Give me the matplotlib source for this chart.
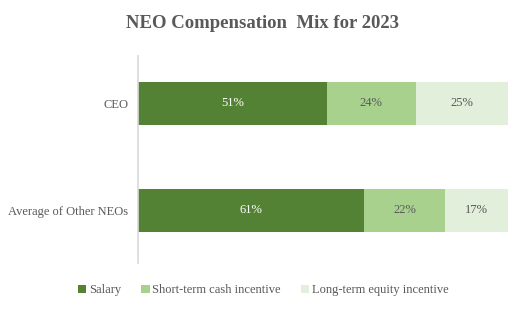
import numpy as np
import matplotlib.pyplot as plt

categories = ["Average of Other NEOs", "CEO"]
salary = [61, 51]
short_term = [22, 24]
long_term = [17, 25]
series_names = ["Salary", "Short-term cash incentive", "Long-term equity incentive"]
colors = ["#548235", "#A9D18E", "#E2EFDA"]
text_colors = ["white", "#595959", "#595959"]

plt.rcParams['font.family'] = ['Liberation Serif', 'DejaVu Serif']

fig = plt.figure(figsize=(5.26, 3.09), dpi=100)
ax = fig.add_axes([0.262, 0.149, 0.704, 0.67])

y = np.arange(len(categories))
left = np.zeros(len(categories))
for vals, name, c, tc in zip([salary, short_term, long_term], series_names, colors, text_colors):
    vals = np.array(vals)
    ax.barh(y, vals / 100, left=left, height=0.4, color=c, label=name)
    for yi, l, v in zip(y, left, vals):
        ax.text(l + v / 200, yi, f"{v}%", ha='center', va='center', fontsize=9, color=tc)
    left = left + vals / 100

ax.set_xlim(0, 1)
ax.set_ylim(-0.49, 1.44)
ax.set_yticks(y)
ax.set_yticklabels(categories, fontsize=9, color="#595959")
ax.tick_params(axis='y', length=0, pad=7)
ax.set_xticks([])
for s in ['top', 'right', 'bottom']:
    ax.spines[s].set_visible(False)
ax.spines['left'].set_color('#D9D9D9')
ax.spines['left'].set_linewidth(1.2)

fig.text(0.5, 0.925, "NEO Compensation  Mix for 2023", ha='center', va='center',
         fontsize=13.5, fontweight='bold', color="#595959")

handles, labels = ax.get_legend_handles_labels()
fig.legend(handles, labels, loc='center', bbox_to_anchor=(0.5, 0.06), ncol=3, frameon=False,
           fontsize=9, handlelength=0.7, handleheight=0.7, handletextpad=0.2, columnspacing=1.6,
           labelcolor="#595959")

fig.savefig("out.png", dpi=100)
